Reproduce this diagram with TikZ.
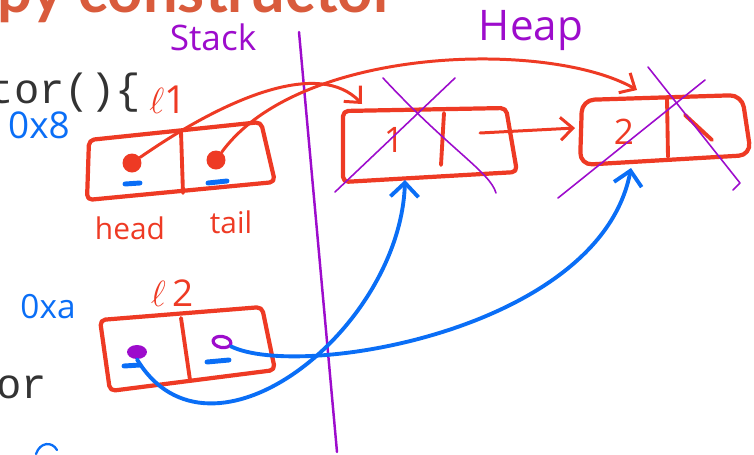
\documentclass[tikz,border=0pt]{standalone}
\usepackage{fontspec}
\usepackage{tikz}
\usetikzlibrary{arrows.meta, positioning, shapes.geometric}
\setmainfont{Open Sans}
\newfontfamily\titlefont{Lato}
\newfontfamily\codefont{Liberation Mono}
\definecolor{inkred}{HTML}{EE3A24}
\definecolor{inkblue}{HTML}{0A6EF6}
\definecolor{inkpurple}{HTML}{9D0CCC}
\definecolor{slideorange}{HTML}{D95B3C}
\definecolor{codegray}{HTML}{333333}

\begin{document}
\begin{tikzpicture}[
    x=0.02cm, y=-0.02cm,
    line cap=round, line join=round,
    box/.style={draw=inkred, line width=2.4pt, rounded corners=3pt},
    cellwall/.style={draw=inkred, line width=2.2pt},
    ptr/.style={draw=inkred, line width=1.7pt, -{Straight Barb[length=7pt, width=13pt]}},
    ref/.style={draw=inkblue, line width=2.2pt, -{Straight Barb[length=8pt, width=16pt]}},
    uline/.style={draw=inkblue, line width=2.8pt},
    cross/.style={draw=inkpurple, line width=0.9pt},
    reddot/.style={circle, fill=inkred, inner sep=0pt, minimum size=0.38cm},
    purpledot/.style={ellipse, fill=inkpurple, inner sep=0pt, minimum width=0.4cm, minimum height=0.28cm},
    purplering/.style={ellipse, draw=inkpurple, line width=1.8pt, inner sep=0pt, minimum width=0.36cm, minimum height=0.22cm},
    areatitle/.style={text=inkpurple, inner sep=0pt},
    redlbl/.style={text=inkred, inner sep=0pt, font=\fontsize{16}{16}\selectfont},
    addr/.style={text=inkblue, inner sep=0pt, font=\fontsize{21}{21}\selectfont},
    code/.style={text=codegray, inner sep=0pt, anchor=base east, font=\codefont\fontsize{24}{24}\selectfont}
]
\useasboundingbox (0,0) rectangle (754,454);

% Slide underneath
\node[anchor=base west, inner sep=0pt, text=slideorange, font=\titlefont\bfseries\fontsize{35}{35}\selectfont] (title) at (-3,12) {py constructor};
\node[code] (ctor) at (141,103) {tor()\{};
\node[code] (ctor2) at (47,398) {or};
\draw[inkblue, line width=1.3pt] (36,454) .. controls (40,442) and (52,441) .. (57,450);

% Stack / heap split
\draw[inkpurple, line width=1.4pt] (299,32) -- (337,452);
\node[areatitle, font=\fontsize{20}{20}\selectfont] (stack) at (213,37) {Stack};
\node[areatitle, anchor=base, font=\fontsize{24}{24}\selectfont] (heap) at (531,40) {Heap};

% l1 on the stack
\node[redlbl, font=\fontsize{22}{22}\selectfont] (l1name) at (168,100) {$\ell$1};
\node[addr] (l1addr) at (39,125) {0x8};
\draw[box] (89,140) -- (261,122) -- (275,182) -- (87,200) -- cycle;
\draw[cellwall] (181,132) -- (183,193);
\node[reddot] (l1head) at (132,163) {};
\node[reddot] (l1tail) at (216,160) {};
\draw[uline] (125,184) -- (140,183);
\draw[uline] (208,183) -- (227,181);
\node[redlbl, font=\fontsize{17}{17}\selectfont] (headlbl) at (130,228) {head};
\node[redlbl, font=\fontsize{17}{17}\selectfont] (taillbl) at (231,222) {tail};

% l2 on the stack
\node[redlbl, font=\fontsize{21}{21}\selectfont] (l2name) at (172,293) {$\ell$\,2};
\node[addr, font=\fontsize{19}{19}\selectfont] (l2addr) at (48,307) {0xa};
\draw[box] (100,320) -- (262,307) -- (275,370) -- (110,391) -- cycle;
\draw[cellwall] (181,318) -- (190,380);
\node[purpledot] (l2head) at (137,352) {};
\node[purplering, rotate=-10] (l2tail) at (222,342) {};
\draw[uline] (124,366) -- (140,365);
\draw[uline] (207,362) -- (229,360);

% Heap node 1
\draw[box] (343,111) -- (506,108) -- (517,172) -- (343,182) -- cycle;
\draw[cellwall] (444,113) -- (441,165);
\node[redlbl, font=\fontsize{20}{20}\selectfont] (val1) at (394,140) {1};
\coordinate (n1in) at (362,104);
\coordinate (n1next) at (480,133);
\coordinate (n1bottom) at (405,180);
\draw[cross] (383,78) .. controls (450,150) and (490,172) .. (496,193);
\draw[cross] (455,78) -- (335,192);

% Heap node 2
\draw[box, rounded corners=7pt] (582,100) -- (742,95) -- (751,155) -- (580,165) -- cycle;
\draw[cellwall] (667,98) -- (668,157);
\draw[cellwall] (685,115) -- (712,140);
\node[redlbl, font=\fontsize{20}{20}\selectfont] (val2) at (624,132) {2};
\coordinate (n2in) at (637,90);
\coordinate (n2left) at (575,128);
\coordinate (n2bottom) at (631,168);
\draw[cross] (648,67) -- (740,183) -- (733,190);
\draw[cross] (705,80) -- (558,198);

% Pointers
\draw[ptr] (l1head) .. controls (230,95) and (320,60) .. (n1in);
\draw[ptr] (l1tail) .. controls (300,45) and (550,40) .. (n2in);
\draw[ptr] (n1next) -- (n2left);
\draw[ref] (l2head.south) .. controls (210,480) and (400,330) .. (n1bottom);
\draw[ref] (l2tail) .. controls (300,380) and (600,330) .. (n2bottom);

\end{tikzpicture}
\end{document}
